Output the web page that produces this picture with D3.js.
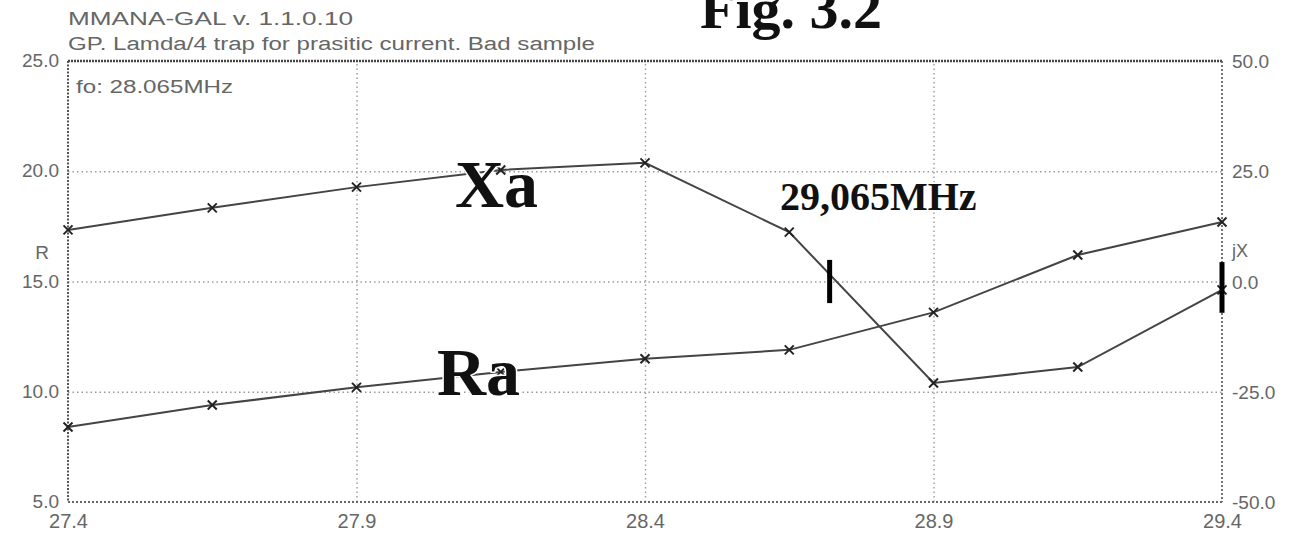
<!DOCTYPE html>
<html>
<head>
<meta charset="utf-8">
<script src="https://cdn.jsdelivr.net/npm/d3@7"></script>
<style>
  body { margin: 0; background: #fff; }
  svg { display: block; }
  .lbl { font-family: "Liberation Sans", Arial, sans-serif; fill: #666; }
  .big { font-family: "Liberation Serif", "Times New Roman", serif; font-weight: bold; fill: #111;
         paint-order: stroke; stroke: #fff; stroke-width: 3px; }
</style>
</head>
<body>
<svg id="chart"></svg>
<script>
// sweep frequencies (MHz) and the two curves
const freq = [27.4, 27.65, 27.9, 28.15, 28.4, 28.65, 28.9, 29.15, 29.4];
const raValues = [8.4, 9.4, 10.2, 10.9, 11.5, 11.9, 13.6, 16.2, 17.7];
const xaValues = [11.7, 16.7, 21.4, 25.3, 26.9, 11.2, -23.0, -19.4, -1.9];

// axis ticks
const freqTicks = [27.4, 27.9, 28.4, 28.9, 29.4];
const rTicks = [5, 10, 15, 20, 25];
const xTicks = [-50, -25, 0, 25, 50];

// thick marker bars (freq, jX top, jX bottom)
const barFreq = [28.72, 29.4];
const barTop = [4.9, 4.4];
const barBottom = [-4.9, -7.1];

const W = 1302, H = 540;
const margin = { top: 61, right: 80, bottom: 38, left: 68 };
const width = W - margin.left - margin.right;
const height = H - margin.top - margin.bottom;

const fmt = d => d.toFixed(1);

const svg = d3.select("#chart").attr("width", W).attr("height", H);
const g = svg.append("g").attr("transform", `translate(${margin.left},${margin.top})`);

const xScale = d3.scaleLinear().domain([27.4, 29.4]).range([0, width]);
const rScale = d3.scaleLinear().domain([5, 25]).range([height, 0]);
const jxScale = d3.scaleLinear().domain([-50, 50]).range([height, 0]);

// grid lines (dotted)
g.append("g")
    .call(d3.axisLeft(rScale).tickValues([10, 15, 20]).tickSize(-width).tickFormat(""))
    .call(a => a.select(".domain").remove())
    .selectAll("line")
    .attr("stroke", "#9a9a9a").attr("stroke-width", 1.4).attr("stroke-dasharray", "1.5,3");
g.append("g")
    .attr("transform", `translate(0,${height})`)
    .call(d3.axisBottom(xScale).tickValues([27.9, 28.4, 28.9]).tickSize(-height).tickFormat(""))
    .call(a => a.select(".domain").remove())
    .selectAll("line")
    .attr("stroke", "#9a9a9a").attr("stroke-width", 1.4).attr("stroke-dasharray", "1.5,3");

// frame
const frame = g.append("g").attr("fill", "none");
frame.append("line").attr("x1", 0).attr("x2", width).attr("y1", 0).attr("y2", 0)
    .attr("stroke", "#444").attr("stroke-width", 2.4).attr("stroke-dasharray", "2,1");
frame.append("line").attr("x1", 0).attr("x2", 0).attr("y1", 0).attr("y2", height)
    .attr("stroke", "#555").attr("stroke-width", 2).attr("stroke-dasharray", "2,1.5");
frame.append("line").attr("x1", 0).attr("x2", width).attr("y1", height).attr("y2", height)
    .attr("stroke", "#666").attr("stroke-width", 1.8).attr("stroke-dasharray", "2,2");
frame.append("line").attr("x1", width).attr("x2", width).attr("y1", 0).attr("y2", height)
    .attr("stroke", "#666").attr("stroke-width", 1.8).attr("stroke-dasharray", "2,2");

// left axis labels
g.append("g")
    .call(d3.axisLeft(rScale).tickValues(rTicks).tickSize(0).tickPadding(9).tickFormat(fmt))
    .call(a => a.select(".domain").remove())
    .selectAll("text")
    .attr("class", "lbl").attr("font-size", 19).attr("dy", "0.3em");

// right axis labels
g.append("g")
    .attr("transform", `translate(${width},0)`)
    .call(d3.axisRight(jxScale).tickValues(xTicks).tickSize(0).tickPadding(10).tickFormat(fmt))
    .call(a => a.select(".domain").remove())
    .selectAll("text")
    .attr("class", "lbl").attr("font-size", 19).attr("dy", "0.35em");

// bottom axis labels
g.append("g")
    .attr("transform", `translate(0,${height})`)
    .call(d3.axisBottom(xScale).tickValues(freqTicks).tickSize(0).tickPadding(12).tickFormat(fmt))
    .call(a => a.select(".domain").remove())
    .selectAll("text")
    .attr("class", "lbl").attr("font-size", 20).attr("fill", "#555");

// axis names
svg.append("text").attr("class", "lbl").attr("font-size", 19)
    .attr("x", 42).attr("y", margin.top + rScale(16.0)).attr("text-anchor", "middle").text("R");
svg.append("text").attr("class", "lbl").attr("font-size", 18)
    .attr("x", margin.left + width + 10).attr("y", margin.top + jxScale(5.5)).text("jX");

// header text (scanned lettering is wide, so stretch to the measured run)
svg.append("text").attr("class", "lbl").attr("font-size", 18).attr("fill", "#555")
    .attr("x", margin.left).attr("y", 25)
    .attr("textLength", 285).attr("lengthAdjust", "spacingAndGlyphs")
    .text("MMANA-GAL  v. 1.1.0.10");
svg.append("text").attr("class", "lbl").attr("font-size", 18).attr("fill", "#555")
    .attr("x", margin.left).attr("y", 50)
    .attr("textLength", 527).attr("lengthAdjust", "spacingAndGlyphs")
    .text("GP. Lamda/4 trap for prasitic current. Bad sample");
g.append("text").attr("class", "lbl").attr("font-size", 18)
    .attr("x", 8).attr("y", 32)
    .attr("textLength", 157).attr("lengthAdjust", "spacingAndGlyphs")
    .text("fo: 28.065MHz");

// curves
const raLine = d3.line().x((d, i) => xScale(freq[i])).y(d => rScale(d));
const xaLine = d3.line().x((d, i) => xScale(freq[i])).y(d => jxScale(d));

g.append("path").datum(raValues).attr("d", raLine)
    .attr("fill", "none").attr("stroke", "#444").attr("stroke-width", 2);
g.append("path").datum(xaValues).attr("d", xaLine)
    .attr("fill", "none").attr("stroke", "#444").attr("stroke-width", 2);

// x markers at each computed point
function drawMarks(values, scale) {
    const s = 4.5;
    const pts = g.append("g").attr("stroke", "#222").attr("stroke-width", 2)
        .selectAll("g").data(values).join("g")
        .attr("transform", (d, i) => `translate(${xScale(freq[i])},${scale(d)})`);
    pts.append("line").attr("x1", -s).attr("y1", -s).attr("x2", s).attr("y2", s);
    pts.append("line").attr("x1", -s).attr("y1", s).attr("x2", s).attr("y2", -s);
}
drawMarks(raValues, rScale);
drawMarks(xaValues, jxScale);

// thick marker bars
g.append("g").selectAll("line").data(barFreq).join("line")
    .attr("x1", d => xScale(d)).attr("x2", d => xScale(d))
    .attr("y1", (d, i) => jxScale(barTop[i])).attr("y2", (d, i) => jxScale(barBottom[i]))
    .attr("stroke", "#000").attr("stroke-width", 5);

// big annotations
svg.append("text").attr("class", "big").attr("font-size", 68)
    .attr("x", 455).attr("y", 207).text("Xa");
svg.append("text").attr("class", "big").attr("font-size", 68)
    .attr("x", 437).attr("y", 395).text("Ra");
svg.append("text").attr("class", "big").attr("font-size", 40).attr("stroke-width", 0)
    .attr("x", 780).attr("y", 210).text("29,065MHz");
svg.append("text").attr("class", "big").attr("font-size", 58).attr("stroke-width", 0)
    .attr("x", 700).attr("y", 28).text("Fig. 3.2");
</script>
</body>
</html>
